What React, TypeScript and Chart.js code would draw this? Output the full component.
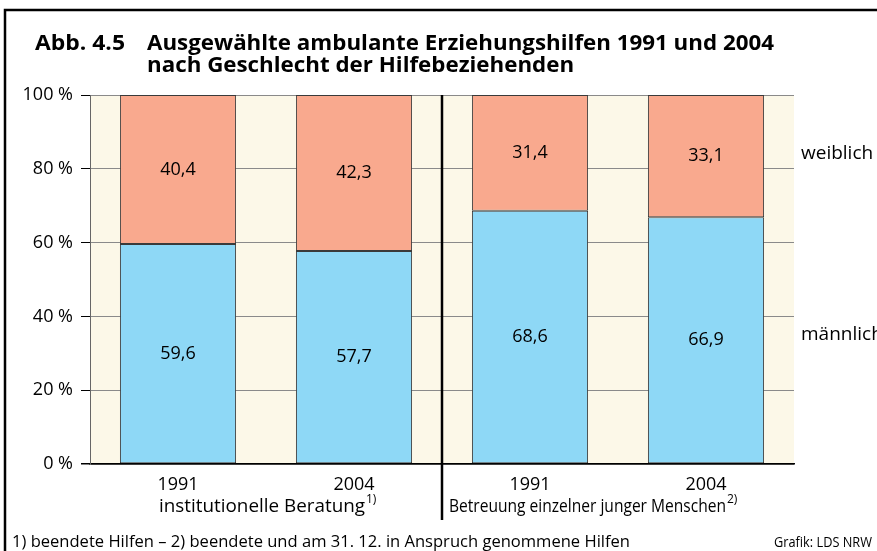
import React, { useEffect, useRef } from "react";
import { Chart, registerables } from "chart.js";

Chart.register(...registerables);

const categories = ["1991", "2004", "1991", "2004"];
const maennlich = [59.6, 57.7, 68.6, 66.9];
const weiblich = [40.4, 42.3, 31.4, 33.1];
const yTicks = [0, 20, 40, 60, 80, 100];
const groupLabels = ["institutionelle Beratung", "Betreuung einzelner junger Menschen"];
const groupSup = ["1)", "2)"];
const seriesNames = ["männlich", "weiblich"];
const titleNum = "Abb. 4.5";
const titleLines = [
  "Ausgewählte ambulante Erziehungshilfen 1991 und 2004",
  "nach Geschlecht der Hilfebeziehenden",
];
const footnote = "1) beendete Hilfen – 2) beendete und am 31. 12. in Anspruch genommene Hilfen";
const source = "Grafik: LDS NRW";

const FONT = '"Open Sans", "DejaVu Sans", sans-serif';
const BLUE = "#8ed8f6";
const SALMON = "#f9a98e";
const CREAM = "#fcf8e8";

// draw text horizontally scaled to a given width; returns the scale used
function fitText(ctx: any, text: string, x: number, y: number, width: number, forced?: number) {
  const w = ctx.measureText(text).width;
  const sx = forced ?? width / w;
  ctx.save();
  ctx.translate(x, y);
  ctx.scale(sx, 1);
  ctx.textAlign = "left";
  ctx.fillText(text, 0, 0);
  ctx.restore();
  return sx;
}

const extras = {
  id: "extras",
  beforeDraw(chart: any) {
    const { ctx, chartArea: a } = chart;
    ctx.save();
    ctx.fillStyle = "#ffffff";
    ctx.fillRect(0, 0, chart.width, chart.height);
    ctx.fillStyle = CREAM;
    ctx.fillRect(a.left, a.top, a.right - a.left, a.bottom - a.top);
    ctx.restore();
  },
  afterDatasetsDraw(chart: any) {
    const { ctx } = chart;
    ctx.save();
    ctx.fillStyle = "#000";
    ctx.font = `18px ${FONT}`;
    ctx.textAlign = "center";
    ctx.textBaseline = "middle";
    chart.data.datasets.forEach((ds: any, di: number) => {
      const meta = chart.getDatasetMeta(di);
      meta.data.forEach((bar: any, i: number) => {
        const v = ds.data[i];
        ctx.fillText(String(v).replace(".", ","), bar.x, (bar.y + bar.base) / 2);
      });
    });
    ctx.restore();
  },
  afterDraw(chart: any) {
    const { ctx, chartArea: a, scales } = chart;
    const x = scales.x;
    const y = scales.y;
    ctx.save();
    // frame
    ctx.strokeStyle = "#000";
    ctx.lineWidth = 2.5;
    ctx.beginPath();
    ctx.moveTo(5, chart.height + 5);
    ctx.lineTo(5, 10);
    ctx.lineTo(chart.width + 5, 10);
    ctx.stroke();

    // divider
    const mid = (x.getPixelForValue(1) + x.getPixelForValue(2)) / 2;
    ctx.lineWidth = 2.5;
    ctx.beginPath();
    ctx.moveTo(mid, a.top);
    ctx.lineTo(mid, 520);
    ctx.stroke();

    // title
    ctx.fillStyle = "#000";
    ctx.textBaseline = "alphabetic";
    ctx.font = `bold 21px ${FONT}`;
    fitText(ctx, titleNum, 35, 50, 90);
    const sx = fitText(ctx, titleLines[0], 147, 50, 627);
    fitText(ctx, titleLines[1], 147, 72, 0, sx);

    // group labels
    ctx.font = `17.5px ${FONT}`;
    fitText(ctx, groupLabels[0], 159, 512, 206);
    ctx.font = `12px ${FONT}`;
    ctx.fillText(groupSup[0], 366, 503);
    ctx.font = `17.5px ${FONT}`;
    fitText(ctx, groupLabels[1], mid + 7, 512, 277);
    ctx.font = `12px ${FONT}`;
    ctx.fillText(groupSup[1], mid + 7 + 278, 503);

    // series labels
    ctx.font = `19px ${FONT}`;
    ctx.textAlign = "left";
    ctx.textBaseline = "middle";
    ctx.fillText(seriesNames[1], a.right + 7, y.getPixelForValue(84));
    ctx.fillText(seriesNames[0], a.right + 7, y.getPixelForValue(35));

    // footnotes
    ctx.textBaseline = "alphabetic";
    ctx.font = `17px ${FONT}`;
    fitText(ctx, footnote, 12, 547, 618);
    ctx.font = `15px ${FONT}`;
    fitText(ctx, source, 774, 547, 98);
    ctx.restore();
  },
};

export default function App() {
  const ref = useRef<HTMLCanvasElement>(null);
  useEffect(() => {
    if (!ref.current) return;
    const chart = new Chart(ref.current, {
      type: "bar",
      data: {
        labels: categories,
        datasets: [
          {
            label: seriesNames[0],
            data: maennlich,
            backgroundColor: BLUE,
            borderColor: "#3a3a3a",
            borderWidth: 1,
            borderSkipped: false,
            barPercentage: 0.66,
            categoryPercentage: 1,
          },
          {
            label: seriesNames[1],
            data: weiblich,
            backgroundColor: SALMON,
            borderColor: "#3a3a3a",
            borderWidth: 1,
            borderSkipped: false,
            barPercentage: 0.66,
            categoryPercentage: 1,
          },
        ],
      },
      options: {
        animation: false,
        responsive: false,
        devicePixelRatio: 1,
        layout: { padding: { left: 0, right: 83, top: 95, bottom: 0 } },
        plugins: {
          legend: { display: false },
          tooltip: { enabled: false },
          title: { display: false },
        },
        scales: {
          x: {
            stacked: true,
            grid: { display: false },
            border: { display: true, color: "#000", width: 1.5 },
            ticks: {
              color: "#000",
              font: { family: FONT, size: 18 },
              padding: 2,
              maxRotation: 0,
            },
            afterFit: (s: any) => {
              s.height = 87;
            },
          },
          y: {
            stacked: true,
            min: 0,
            max: 100,
            afterBuildTicks: (s: any) => {
              s.ticks = yTicks.map((v) => ({ value: v }));
            },
            grid: {
              color: (c: any) => (c.tick && c.tick.value === 0 ? "#000" : "#8a8a8a"),
              lineWidth: (c: any) => (c.tick && c.tick.value === 0 ? 1.5 : 1),
              tickColor: "#000",
              tickLength: 9,
              drawTicks: true,
            },
            border: { display: true, color: "#666", width: 1 },
            ticks: {
              color: "#000",
              font: { family: FONT, size: 18 },
              padding: 8,
              callback: (v: any) => `${v} %`,
            },
            afterFit: (s: any) => {
              s.width = 90;
            },
          },
        },
      },
      plugins: [extras],
    });
    return () => chart.destroy();
  }, []);
  return (
    <div style={{ position: "absolute", left: 0, top: 0, width: 877, height: 551 }}>
      <canvas ref={ref} width={877} height={551} style={{ width: 877, height: 551 }} />
    </div>
  );
}
